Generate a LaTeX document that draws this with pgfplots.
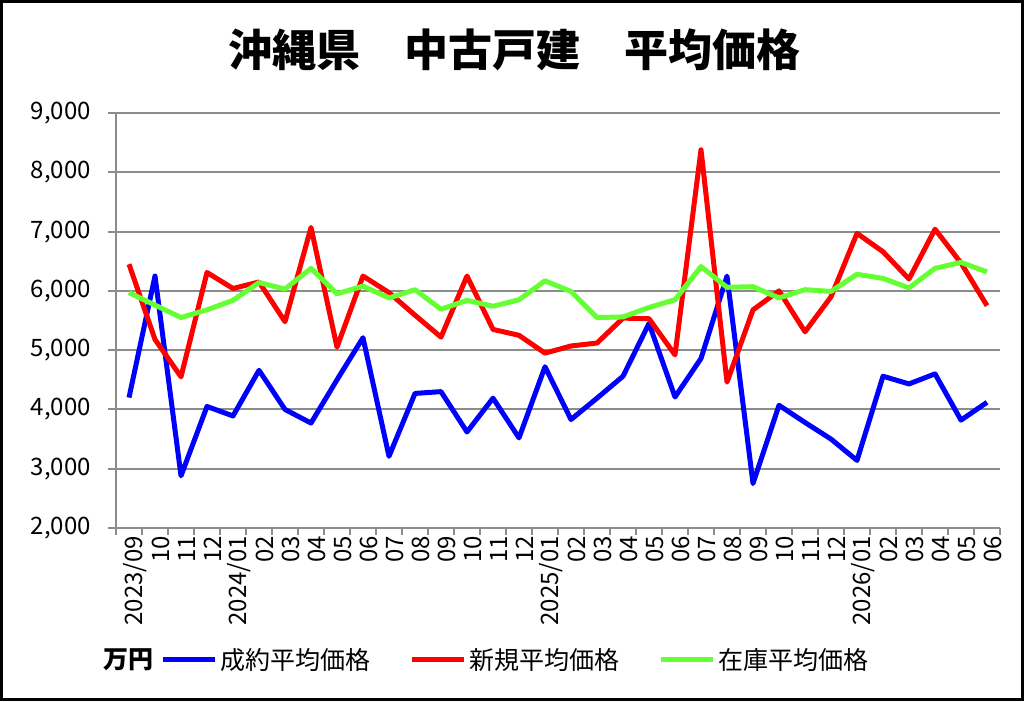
\documentclass[border=0pt]{standalone}
\usepackage{pgfplots}
\pgfplotsset{compat=1.18}
\usepackage{pgfplotstable}
\usepackage{fontspec}
\setmainfont{Noto Sans CJK JP}
\definecolor{cblue}{RGB}{0,0,255}
\definecolor{cred}{RGB}{255,0,0}
\definecolor{cgreen}{RGB}{102,255,51}
\definecolor{cgrid}{RGB}{140,140,140}
\pgfplotstableread{
i seiyaku shinki zaiko
0 4200 6450 5970
1 6250 5180 5760
2 2880 4550 5550
3 4050 6310 5680
4 3890 6040 5840
5 4660 6150 6140
6 4000 5480 6030
7 3770 7070 6380
8 4500 5050 5950
9 5210 6250 6080
10 3210 5970 5880
11 4270 5590 6020
12 4300 5220 5690
13 3620 6250 5840
14 4190 5350 5740
15 3520 5250 5850
16 4720 4950 6170
17 3830 5070 5990
18 4190 5120 5550
19 4560 5540 5560
20 5450 5530 5720
21 4210 4920 5850
22 4860 8380 6410
23 6250 4460 6060
24 2750 5680 6070
25 4070 6000 5880
26 3780 5310 6020
27 3500 5900 5990
28 3140 6970 6280
29 4560 6660 6210
30 4430 6200 6050
31 4600 7040 6380
32 3820 6470 6480
33 4120 5750 6320
}\data
\begin{document}
\begin{tikzpicture}[x=1pt,y=1pt]
\path[use as bounding box] (0,0) rectangle (1024,701);
\draw[line width=3pt] (1.5,1.5) rectangle (1022.5,699.5);
\node[font=\fontsize{44}{50}\selectfont\bfseries] at (514,651) {沖縄県　中古戸建　平均価格};
\node[font=\fontsize{25}{30}\selectfont\bfseries, anchor=east, inner sep=0pt] at (154,41) {万円};
\begin{axis}[
  at={(116pt,173pt)}, anchor=south west,
  scale only axis, width=884pt, height=415pt,
  xmin=-0.5, xmax=33.5, ymin=2000, ymax=9000,
  axis x line*=bottom, axis y line*=left,
  axis line style={draw=cgrid, line width=2pt},
  ymajorgrids, grid style={draw=cgrid, line width=2pt},
  ytick={2000,3000,...,9000},
  xtick={0,...,33},
  xticklabels={2023/09,10,11,12,2024/01,02,03,04,05,06,07,08,09,10,11,12,2025/01,02,03,04,05,06,07,08,09,10,11,12,2026/01,02,03,04,05,06},
  minor xtick={-0.5,0.5,...,33.5},
  major x tick style={draw=none},
  minor x tick style={draw=cgrid, line width=2pt},
  y tick style={draw=cgrid, line width=2pt},
  tick align=outside,
  major tick length=8pt, minor tick length=7pt,
  ticklabel style={font=\fontsize{24}{28}\selectfont, inner sep=0pt},
  yticklabel style={xshift=-17pt},
  xticklabel style={rotate=90, anchor=east, yshift=-6pt},
  /pgf/number format/.cd, 1000 sep={,}, assume math mode=true, /pgfplots/.cd,
  legend style={at={(0.0498,-0.318)}, anchor=west, draw=none, fill=none, inner sep=0pt,
    font=\fontsize{25}{30}\selectfont,
    nodes={inner sep=3pt},
    /tikz/every even column/.append style={column sep=36pt}},
  legend columns=3,
  legend image code/.code={\draw[#1, line width=5pt] (0pt,0pt) -- (52pt,0pt);},
  every axis plot/.append style={line width=5pt, line join=round},
]
\addplot[cblue] table[x=i,y=seiyaku] {\data};
\addlegendentry{成約平均価格}
\addplot[cred] table[x=i,y=shinki] {\data};
\addlegendentry{新規平均価格}
\addplot[cgreen] table[x=i,y=zaiko] {\data};
\addlegendentry{在庫平均価格}
\end{axis}
\end{tikzpicture}
\end{document}
